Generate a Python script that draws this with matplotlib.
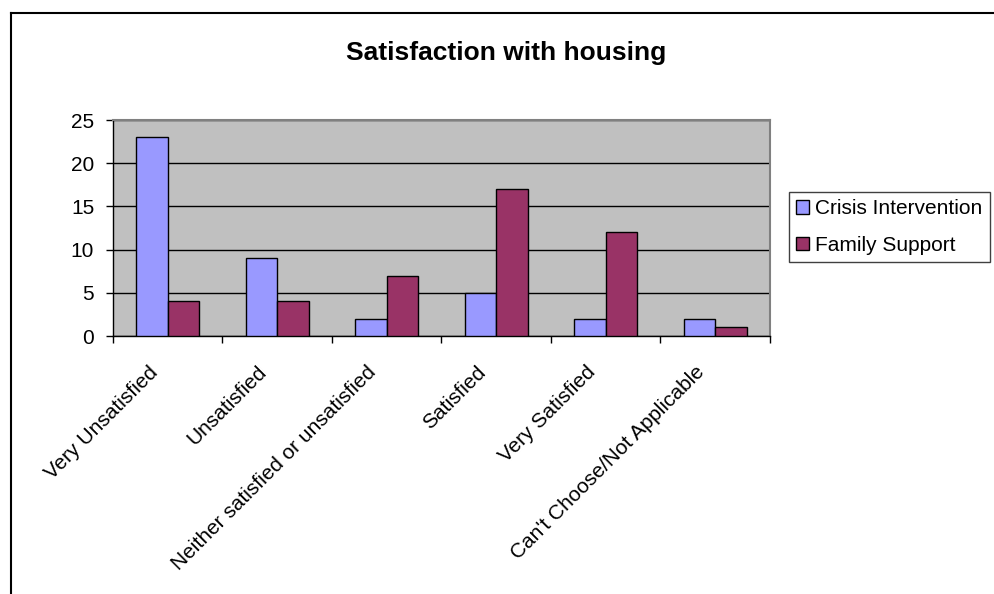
import matplotlib
matplotlib.use("Agg")
import matplotlib.pyplot as plt
import numpy as np
from matplotlib.lines import Line2D
from matplotlib.transforms import ScaledTranslation, blended_transform_factory

plt.rcParams['font.family'] = ['Liberation Sans', 'DejaVu Sans']

categories = ["Very Unsatisfied", "Unsatisfied", "Neither satisfied or unsatisfied",
              "Satisfied", "Very Satisfied", "Can't Choose/Not Applicable"]
crisis = [23, 9, 2, 5, 2, 2]
family = [4, 4, 7, 17, 12, 1]
series_names = ["Crisis Intervention", "Family Support"]
yticks = [0, 5, 10, 15, 20, 25]

fig = plt.figure(figsize=(9.95, 5.94), dpi=100)
ax = fig.add_axes([113/995, 1-336/594, (770-113)/995, (336-120)/594])
ax.set_facecolor('#C0C0C0')

x = np.arange(len(categories))
w = 1/3.5
ax.bar(x - w/2, crisis, w, color='#9999FF', edgecolor='black', linewidth=1.0,
       label=series_names[0], zorder=3)
ax.bar(x + w/2, family, w, color='#993366', edgecolor='black', linewidth=1.0,
       label=series_names[1], zorder=3)

ax.set_xlim(-0.5, len(categories) - 0.5)
ax.set_ylim(0, 25)
ax.set_yticks(yticks)
ax.set_yticklabels([str(v) for v in yticks], fontsize=15)
ax.yaxis.grid(True, color='black', linewidth=1.0, zorder=1)
ax.set_axisbelow(True)

ax.set_xticks(x)
ax.set_xticklabels([])
ax.set_xticks(np.arange(-0.5, len(categories)), minor=True)
ax.tick_params(axis='x', which='major', length=0)
ax.tick_params(axis='x', which='minor', length=5, width=1, direction='out')
ax.tick_params(axis='y', length=5, width=1, direction='out', pad=8.5)

trans = blended_transform_factory(ax.transData, ax.transAxes) + \
    ScaledTranslation(-0.20, -0.267, fig.dpi_scale_trans)
for xi, lab in zip(x, categories):
    ax.text(xi, 0, lab, transform=trans, rotation=45, ha='right', va='top',
            rotation_mode='anchor', fontsize=15, clip_on=False)

for s in ['top', 'right']:
    ax.spines[s].set_color('#808080')
    ax.spines[s].set_linewidth(1.5)
for s in ['left', 'bottom']:
    ax.spines[s].set_color('black')
    ax.spines[s].set_linewidth(1.0)

fig.text(506/995, 1-53/594, "Satisfaction with housing", ha='center', va='center',
         fontsize=19, fontweight='bold')

leg = fig.legend(loc='upper left', bbox_to_anchor=(789/995, 1-192/594),
                 fontsize=15, frameon=True, fancybox=False, framealpha=1,
                 edgecolor='#404040', handlelength=0.6, handleheight=0.6,
                 handletextpad=0.3, borderpad=0.35, labelspacing=0.85,
                 borderaxespad=0)
leg.get_frame().set_linewidth(1.0)

fig.add_artist(Line2D([11/995, 994/995], [1-13/594, 1-13/594], color='black',
                      linewidth=1.5, transform=fig.transFigure))
fig.add_artist(Line2D([11/995, 11/995], [1-13/594, 0], color='black',
                      linewidth=1.5, transform=fig.transFigure))

fig.savefig("out.png", dpi=100)
